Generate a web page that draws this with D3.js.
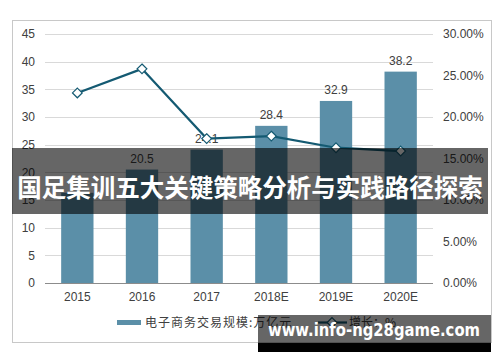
<!DOCTYPE html>
<html>
<head>
<meta charset="utf-8">
<script src="https://cdn.jsdelivr.net/npm/d3@7"></script>
<style>
  body { margin: 0; background: #fff; }
  text { font-family: "Liberation Sans", Arial, "Noto Sans CJK SC", sans-serif; }
</style>
</head>
<body>
<div id="chart_area"></div>
<script>
// data
var years = ["2015", "2016", "2017", "2018E", "2019E", "2020E"];
var scale = [16.3, 20.5, 24.1, 28.4, 32.9, 38.2];          // 万亿元
var growth = [0.229, 0.258, 0.174, 0.177, 0.163, 0.159];  // 增长
var leftTicks = [0, 5, 10, 15, 20, 25, 30, 35, 40, 45];
var rightTicks = [0, 0.05, 0.10, 0.15, 0.20, 0.25, 0.30];
var barLabels = [null, "20.5", "24.1", "28.4", "32.9", "38.2"];

var sFrameWidth = 500;
var sFrameHeight = 362;

var sFrame = d3.select("#chart_area").append("svg")
  .attr("width", sFrameWidth)
  .attr("height", sFrameHeight);

// outer border
sFrame.append("rect")
  .attr("x", 12.5).attr("y", 20.5)
  .attr("width", 479).attr("height", 322)
  .attr("fill", "#fff")
  .attr("stroke", "#c8c8c8");

var plotLeft = 45, plotRight = 433, plotTop = 34, plotBottom = 283;

var x = d3.scaleBand().domain(years).range([plotLeft, plotRight]).paddingInner(0.5).paddingOuter(0.25);
var yL = d3.scaleLinear().domain([0, 45]).range([plotBottom, plotTop]);
var yR = d3.scaleLinear().domain([0, 0.30]).range([plotBottom, plotTop]);

// grid
sFrame.append("g").selectAll("line").data(leftTicks.slice(1)).join("line")
  .attr("x1", plotLeft).attr("x2", plotRight)
  .attr("y1", function(d){ return Math.round(yL(d)) + 0.5; })
  .attr("y2", function(d){ return Math.round(yL(d)) + 0.5; })
  .attr("stroke", "#d9d9d9").attr("stroke-width", 1);

// left axis
var axL = sFrame.append("g").attr("transform", "translate(" + plotLeft + ",0)")
  .call(d3.axisLeft(yL).tickValues(leftTicks).tickSize(0).tickPadding(10));
axL.select(".domain").remove();
axL.selectAll("text").attr("font-size", 12).attr("fill", "#404040");

// right axis
var axR = sFrame.append("g").attr("transform", "translate(" + plotRight + ",0)")
  .call(d3.axisRight(yR).tickValues(rightTicks).tickSize(0).tickPadding(10).tickFormat(d3.format(".2%")));
axR.select(".domain").remove();
axR.selectAll("text").attr("font-size", 12).attr("fill", "#404040");

// bars
sFrame.append("g").selectAll("rect").data(scale).join("rect")
  .attr("x", function(d, i){ return x(years[i]); })
  .attr("width", x.bandwidth())
  .attr("y", function(d){ return yL(d); })
  .attr("height", function(d){ return plotBottom - yL(d); })
  .attr("fill", "#5b8fa8");

// zero line
sFrame.append("line")
  .attr("x1", plotLeft).attr("x2", plotRight)
  .attr("y1", plotBottom + 0.5).attr("y2", plotBottom + 0.5)
  .attr("stroke", "#8c8c8c");

// x axis labels
var axB = sFrame.append("g").attr("transform", "translate(0," + plotBottom + ")")
  .call(d3.axisBottom(x).tickSize(0).tickPadding(9));
axB.select(".domain").remove();
axB.selectAll("text").attr("font-size", 12).attr("fill", "#404040");

// bar labels
sFrame.append("g").selectAll("text").data(scale).join("text")
  .attr("x", function(d, i){ return x(years[i]) + x.bandwidth() / 2; })
  .attr("y", function(d){ return yL(d) - 7; })
  .attr("text-anchor", "middle")
  .attr("font-size", 12).attr("fill", "#404040")
  .text(function(d, i){ return barLabels[i]; });

// growth line
var line = d3.line()
  .x(function(d, i){ return x(years[i]) + x.bandwidth() / 2; })
  .y(function(d){ return yR(d); });
sFrame.append("path").datum(growth)
  .attr("d", line)
  .attr("fill", "none").attr("stroke", "#145a72").attr("stroke-width", 2.2);

var diamond = d3.symbol().type(d3.symbolDiamond2).size(60);
sFrame.append("g").selectAll("path").data(growth).join("path")
  .attr("transform", function(d, i){ return "translate(" + (x(years[i]) + x.bandwidth() / 2) + "," + yR(d) + ")"; })
  .attr("d", diamond)
  .attr("fill", "#fff").attr("stroke", "#145a72").attr("stroke-width", 1.2);

// legend
var lg = sFrame.append("g");
lg.append("rect").attr("x", 117).attr("y", 320).attr("width", 24).attr("height", 5).attr("fill", "#5b8fa8");
lg.append("text").attr("x", 145).attr("y", 327).attr("font-size", 12).attr("fill", "#404040")
  .style("font-family", "'Noto Sans CJK SC', sans-serif").style("letter-spacing", "1px")
  .text("电子商务交易规模:万亿元");
lg.append("line").attr("x1", 318).attr("x2", 347).attr("y1", 322.5).attr("y2", 322.5)
  .attr("stroke", "#145a72").attr("stroke-width", 2.2);
lg.append("path").attr("transform", "translate(332,322.5)").attr("d", diamond)
  .attr("fill", "#fff").attr("stroke", "#145a72").attr("stroke-width", 1.2);
lg.append("text").attr("x", 349).attr("y", 327).attr("font-size", 12).attr("fill", "#404040")
  .style("font-family", "'Noto Sans CJK SC', sans-serif")
  .text("增长：%");

// title banner overlay
sFrame.append("rect").attr("x", 12).attr("y", 148).attr("width", 476).attr("height", 66)
  .attr("fill", "rgba(0,0,0,0.6)");
sFrame.append("text").attr("x", 250).attr("y", 197).attr("text-anchor", "middle")
  .attr("font-size", 24.5).attr("font-weight", "bold").attr("fill", "#fff")
  .style("font-family", "'Noto Sans CJK SC', sans-serif")
  .text("国足集训五大关键策略分析与实践路径探索");

// url banner
sFrame.append("rect").attr("x", 258).attr("y", 315).attr("width", 233).attr("height", 28)
  .attr("fill", "rgba(0,0,0,0.6)");
sFrame.append("rect").attr("x", 258).attr("y", 343).attr("width", 233).attr("height", 9)
  .attr("fill", "#000");
sFrame.append("text").attr("x", 268).attr("y", 336)
  .attr("font-size", 17).attr("font-weight", "bold").attr("fill", "#fff")
  .attr("textLength", 212).attr("lengthAdjust", "spacingAndGlyphs")
  .style("font-family", "'DejaVu Sans', sans-serif")
  .text("www.info-ng28game.com");
</script>
</body>
</html>
